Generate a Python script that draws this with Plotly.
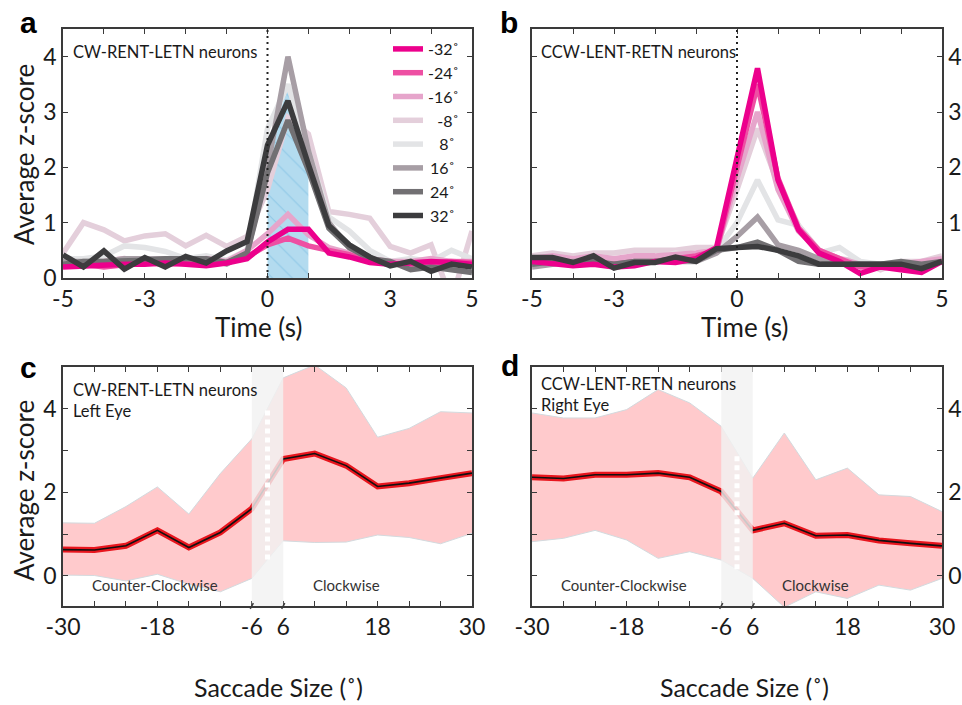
import plotly.graph_objects as go
import numpy as np

# ---------------- data ----------------
time_s = [-5, -4.5, -4, -3.5, -3, -2.5, -2, -1.5, -1, -0.5, 0, 0.5, 1, 1.5, 2, 2.5, 3, 3.5, 4, 4.5, 5]
series_names = ["-32˚", "-24˚", "-16˚", "\u2007-8˚", "\u2007\u20098˚", "\u200916˚", "\u200924˚", "\u200932˚"]

a_m32 = [0.2, 0.22, 0.22, 0.25, 0.25, 0.27, 0.25, 0.22, 0.27, 0.35, 0.65, 0.88, 0.88, 0.45, 0.38, 0.28, 0.25, 0.28, 0.3, 0.28, 0.25]
a_m24 = [0.22, 0.25, 0.2, 0.25, 0.28, 0.25, 0.27, 0.25, 0.28, 0.38, 0.6, 0.72, 0.58, 0.5, 0.42, 0.3, 0.25, 0.25, 0.28, 0.3, 0.28]
a_m16 = [0.3, 0.28, 0.3, 0.35, 0.3, 0.32, 0.3, 0.35, 0.3, 0.5, 0.8, 1.15, 0.78, 0.55, 0.45, 0.35, 0.3, 0.3, 0.35, 0.3, 0.3]
a_m8 = [0.45, 1.0, 0.87, 0.67, 0.76, 0.8, 0.58, 0.77, 0.57, 0.75, 1.6, 2.9, 2.6, 1.2, 1.15, 1.08, 0.57, 0.45, 0.6, -0.4, 0.85]
a_p8 = [0.35, 0.35, 0.4, 0.58, 0.55, 0.48, 0.35, 0.4, 0.32, 0.5, 2.7, 3.5, 2.3, 1.1, 0.85, 0.5, 0.3, 0.35, 0.3, 0.5, 0.35]
a_p16 = [0.3, 0.3, 0.3, 0.35, 0.35, 0.35, 0.35, 0.35, 0.25, 0.45, 2.0, 4.0, 2.3, 1.0, 0.55, 0.35, 0.25, 0.25, 0.2, 0.25, 0.25]
a_p24 = [0.25, 0.3, 0.3, 0.3, 0.32, 0.35, 0.35, 0.35, 0.28, 0.45, 1.9, 2.85, 1.95, 0.9, 0.55, 0.35, 0.3, 0.15, 0.2, 0.15, 0.1]
a_p32 = [0.42, 0.2, 0.49, 0.16, 0.37, 0.2, 0.39, 0.27, 0.49, 0.66, 2.4, 3.2, 2.05, 0.95, 0.6, 0.38, 0.22, 0.3, 0.12, 0.25, 0.2]

window_time = [0, 0.5, 1]
window_val = [2.3, 3.45, 1.9]

b_m32 = [0.3, 0.25, 0.22, 0.25, 0.2, 0.22, 0.3, 0.28, 0.35, 0.55, 2.2, 3.79, 1.77, 0.87, 0.45, 0.3, 0.08, 0.2, 0.15, 0.1, 0.3]
b_m24 = [0.3, 0.3, 0.25, 0.3, 0.25, 0.3, 0.3, 0.35, 0.4, 0.5, 2.0, 3.5, 1.8, 0.9, 0.5, 0.35, 0.2, 0.2, 0.2, 0.18, 0.3]
b_m16 = [0.35, 0.4, 0.35, 0.4, 0.35, 0.4, 0.4, 0.42, 0.45, 0.5, 1.8, 3.0, 1.6, 0.85, 0.5, 0.35, 0.25, 0.2, 0.25, 0.3, 0.35]
b_m8 = [0.4, 0.45, 0.4, 0.45, 0.45, 0.5, 0.5, 0.5, 0.55, 0.55, 1.6, 2.7, 1.7, 0.95, 0.5, 0.35, 0.3, 0.15, 0.3, 0.3, 0.4]
b_p8 = [0.35, 0.35, 0.35, 0.4, 0.35, 0.35, 0.35, 0.45, 0.4, 0.5, 1.0, 1.77, 1.05, 0.95, 0.45, 0.55, 0.3, 0.25, 0.3, 0.25, 0.35]
b_p16 = [0.2, 0.25, 0.3, 0.3, 0.25, 0.3, 0.3, 0.3, 0.3, 0.45, 0.75, 1.1, 0.6, 0.5, 0.35, 0.28, 0.25, 0.25, 0.25, 0.2, 0.3]
b_p24 = [0.25, 0.3, 0.25, 0.3, 0.25, 0.3, 0.3, 0.35, 0.3, 0.5, 0.55, 0.65, 0.5, 0.3, 0.25, 0.25, 0.25, 0.25, 0.3, 0.25, 0.3]
b_p32 = [0.37, 0.37, 0.28, 0.4, 0.18, 0.28, 0.28, 0.38, 0.3, 0.53, 0.55, 0.57, 0.5, 0.4, 0.25, 0.25, 0.25, 0.25, 0.25, 0.17, 0.3]

saccade_size = [-30, -26, -22, -18, -14, -10, -6, 6, 10, 14, 18, 22, 26, 30]
saccade_ticklabels = [-30, -18, -6, 6, 18, 30]

c_mean = [0.63, 0.62, 0.72, 1.09, 0.68, 1.04, 1.61, 2.8, 2.93, 2.64, 2.14, 2.22, 2.34, 2.46]
c_upper = [1.27, 1.26, 1.66, 2.13, 1.48, 2.45, 3.28, 4.74, 5.05, 4.5, 3.32, 3.53, 3.93, 3.9]
c_lower = [0.02, 0.01, -0.12, 0.04, -0.2, -0.38, -0.06, 0.84, 0.8, 0.81, 0.98, 0.92, 0.77, 1.02]

d_mean = [2.36, 2.33, 2.42, 2.42, 2.46, 2.36, 2.02, 1.09, 1.26, 0.96, 0.98, 0.85, 0.78, 0.72]
d_upper = [3.9, 3.78, 3.78, 3.98, 4.46, 4.14, 3.58, 2.34, 3.42, 2.3, 2.58, 1.94, 1.9, 1.54]
d_lower = [0.82, 0.9, 1.09, 0.86, 0.42, 0.58, 0.38, -0.06, -0.75, -0.38, -0.54, -0.22, -0.34, -0.06]

# ---------------- styling ----------------
FONT = "Lato, 'Open Sans', sans-serif"
AX = "#3a3a3a"
colors = ["#ec008c", "#ee4fa3", "#e6a5cb", "#e4cfdb", "#e3e4e6", "#a79ea5", "#727073", "#3c3c3e"]
draw_order = [3, 4, 2, 5, 1, 6, 0, 7]

a_series = [a_m32, a_m24, a_m16, a_m8, a_p8, a_p16, a_p24, a_p32]
b_series = [b_m32, b_m24, b_m16, b_m8, b_p8, b_p16, b_p24, b_p32]

fig = go.Figure()

# panel a: response window (hatched)
fig.add_trace(go.Scatter(
    x=window_time, y=window_val, mode="lines", line=dict(width=0),
    fill="tozeroy", fillcolor="#b3dbef",
    fillpattern=dict(shape="\\", fgcolor="#6cb6df", bgcolor="#b3dbef", size=14, solidity=0.08),
    showlegend=False, hoverinfo="skip", xaxis="x", yaxis="y"))

for i in draw_order:
    fig.add_trace(go.Scatter(
        x=time_s, y=a_series[i], mode="lines", name=series_names[i],
        line=dict(color=colors[i], width=5.5), legendrank=i + 1,
        xaxis="x", yaxis="y", showlegend=True))
for i in draw_order:
    fig.add_trace(go.Scatter(
        x=time_s, y=b_series[i], mode="lines", name=series_names[i],
        line=dict(color=colors[i], width=5.5),
        xaxis="x2", yaxis="y2", showlegend=False))

# panels c, d
pos = np.arange(len(saccade_size))
for (mean, up, lo, xa, ya) in [(c_mean, c_upper, c_lower, "x3", "y3"), (d_mean, d_upper, d_lower, "x4", "y4")]:
    fig.add_trace(go.Scatter(x=pos, y=lo, mode="lines", line=dict(color="#d3dade", width=1),
                             showlegend=False, xaxis=xa, yaxis=ya))
    fig.add_trace(go.Scatter(x=pos, y=up, mode="lines", line=dict(color="#d3dade", width=1),
                             fill="tonexty", fillcolor="#ffcacc", showlegend=False, xaxis=xa, yaxis=ya))
    fig.add_trace(go.Scatter(x=pos, y=mean, mode="lines", line=dict(color="#e8151d", width=6),
                             showlegend=False, xaxis=xa, yaxis=ya))
    fig.add_trace(go.Scatter(x=pos, y=mean, mode="lines", line=dict(color="#111111", width=1.6),
                             showlegend=False, xaxis=xa, yaxis=ya))

# ---------------- axes ----------------
def W(px):
    return px / 962.0


def H(py):
    return 1 - py / 705.0


common = dict(showline=True, linecolor=AX, linewidth=1.5, mirror="allticks", ticks="inside",
              ticklen=5, tickcolor=AX, tickwidth=1.2, showgrid=False, zeroline=False, automargin=False,
              tickfont=dict(family=FONT, size=23, color="#1a1a1a"))

time_ticks = list(range(-5, 6))
time_text = [str(t) if t in (-5, -3, 0, 3, 5) else "" for t in time_ticks]
sac_text = [str(s) if s in saccade_ticklabels else "" for s in saccade_size]

xa_dom = [W(63), W(472)]
xb_dom = [W(532), W(942)]
top_dom = [H(278), H(29)]
bot_dom = [H(606), H(367)]

fig.update_layout(
    xaxis=dict(domain=xa_dom, anchor="y", range=[-5, 5], tickvals=time_ticks, ticktext=time_text, **common),
    yaxis=dict(domain=top_dom, anchor="x", range=[0, 4.5], tickvals=[0, 1, 2, 3, 4], **common),
    xaxis2=dict(domain=xb_dom, anchor="y2", range=[-5, 5], tickvals=time_ticks, ticktext=time_text, **common),
    yaxis2=dict(domain=top_dom, anchor="x2", side="right", range=[0, 4.5], tickvals=[0, 1, 2, 3, 4],
                ticktext=["", "1", "2", "3", "4"], **common),
    xaxis3=dict(domain=xa_dom, anchor="y3", range=[0, len(saccade_size) - 1], tickvals=list(pos), ticktext=sac_text, **common),
    yaxis3=dict(domain=bot_dom, anchor="x3", range=[-0.72, 5.0], tickvals=[0, 1, 2, 3, 4],
                ticktext=["0", "", "2", "", "4"], **common),
    xaxis4=dict(domain=xb_dom, anchor="y4", range=[0, len(saccade_size) - 1], tickvals=list(pos), ticktext=sac_text, **common),
    yaxis4=dict(domain=bot_dom, anchor="x4", side="right", range=[-0.72, 5.0], tickvals=[0, 1, 2, 3, 4],
                ticktext=["0", "", "2", "", "4"], **common),
)

# ---------------- shapes ----------------
shapes = []
for xr, yr in [("x", "y domain"), ("x2", "y2 domain")]:
    shapes.append(dict(type="line", xref=xr, yref=yr, x0=0, x1=0, y0=0, y1=1,
                       line=dict(color="#222222", width=2, dash="2px,4px"), layer="above"))

gap_lo = saccade_size.index(-6)
gap_hi = saccade_size.index(6)
for (up, lo, xr, yr) in [(c_upper, c_lower, "x3", "y3"), (d_upper, d_lower, "x4", "y4")]:
    shapes.append(dict(type="rect", xref=xr, yref=yr + " domain", x0=gap_lo, x1=gap_hi, y0=0, y1=1,
                       fillcolor="#f2f2f2", opacity=0.82, line=dict(width=0), layer="above"))
    mid = (gap_lo + gap_hi) / 2
    shapes.append(dict(type="line", xref=xr, yref=yr, x0=mid, x1=mid,
                       y0=(lo[gap_lo] + lo[gap_hi]) / 2, y1=(up[gap_lo] + up[gap_hi]) / 2,
                       line=dict(color="white", width=5, dash="5px,4px"), layer="above"))
    for p in (gap_lo, gap_hi):
        shapes.append(dict(type="line", xref=xr, yref=yr + " domain", x0=p - 0.05, x1=p + 0.05,
                           y0=-0.012, y1=0.012, line=dict(color=AX, width=1.5), layer="above"))

fig.update_layout(shapes=shapes)

# ---------------- annotations ----------------
ann = []
for letter, x, y in [("a", 28, 22), ("b", 509, 22), ("c", 28, 367), ("d", 510, 365)]:
    ann.append(dict(text="<b>" + letter + "</b>", x=W(x), y=H(y), xref="paper", yref="paper", showarrow=False,
                    font=dict(family="Liberation Sans, Arial, sans-serif", size=30, color="black"),
                    xanchor="center", yanchor="middle"))
for y in (155, 491):
    ann.append(dict(text="Average z-score", x=W(24), y=H(y), xref="paper", yref="paper", showarrow=False,
                    textangle=-90, font=dict(family=FONT, size=26, color="#1a1a1a"),
                    xanchor="center", yanchor="middle"))
for x in (258, 744):
    ann.append(dict(text="Time (s)", x=W(x), y=H(327), xref="paper", yref="paper", showarrow=False,
                    font=dict(family=FONT, size=26, color="#1a1a1a"), xanchor="center", yanchor="middle"))
for x in (278, 744):
    ann.append(dict(text="Saccade Size (˚)", x=W(x), y=H(687), xref="paper", yref="paper", showarrow=False,
                    font=dict(family=FONT, size=25, color="#1a1a1a"), xanchor="center", yanchor="middle"))

small = dict(family=FONT, size=16.5, color="#1a1a1a")
ann.append(dict(text="CW-RENT-LETN neurons", x=W(71), y=H(52), xref="paper", yref="paper", showarrow=False,
                font=small, xanchor="left", yanchor="middle"))
ann.append(dict(text="CCW-LENT-RETN neurons", x=W(539), y=H(52), xref="paper", yref="paper", showarrow=False,
                font=small, xanchor="left", yanchor="middle"))
ann.append(dict(text="CW-RENT-LETN neurons<br>Left Eye", x=W(71), y=H(378), xref="paper", yref="paper",
                showarrow=False, font=small, xanchor="left", yanchor="top", align="left"))
ann.append(dict(text="CCW-LENT-RETN neurons<br>Right Eye", x=W(539), y=H(372), xref="paper", yref="paper",
                showarrow=False, font=small, xanchor="left", yanchor="top", align="left"))

tiny = dict(family=FONT, size=15, color="#333333")
for x, t in [(155, "Counter-Clockwise"), (346, "Clockwise"), (624, "Counter-Clockwise"), (815, "Clockwise")]:
    ann.append(dict(text=t, x=W(x), y=H(585), xref="paper", yref="paper", showarrow=False,
                    font=tiny, xanchor="center", yanchor="middle"))

fig.update_layout(
    annotations=ann,
    width=962, height=705,
    margin=dict(l=0, r=0, t=0, b=0, pad=0),
    paper_bgcolor="white", plot_bgcolor="white",
    font=dict(family=FONT, color="#1a1a1a"),
    legend=dict(x=W(388), y=H(32), xanchor="left", yanchor="top", bgcolor="rgba(0,0,0,0)",
                font=dict(family=FONT, size=16, color="#1a1a1a"), tracegroupgap=0,
                itemwidth=30, traceorder="normal"),
    showlegend=True,
)

fig.write_html("out.html", config={"displayModeBar": False},
               post_script="document.body.style.margin='0px';document.body.style.overflow='hidden';")
